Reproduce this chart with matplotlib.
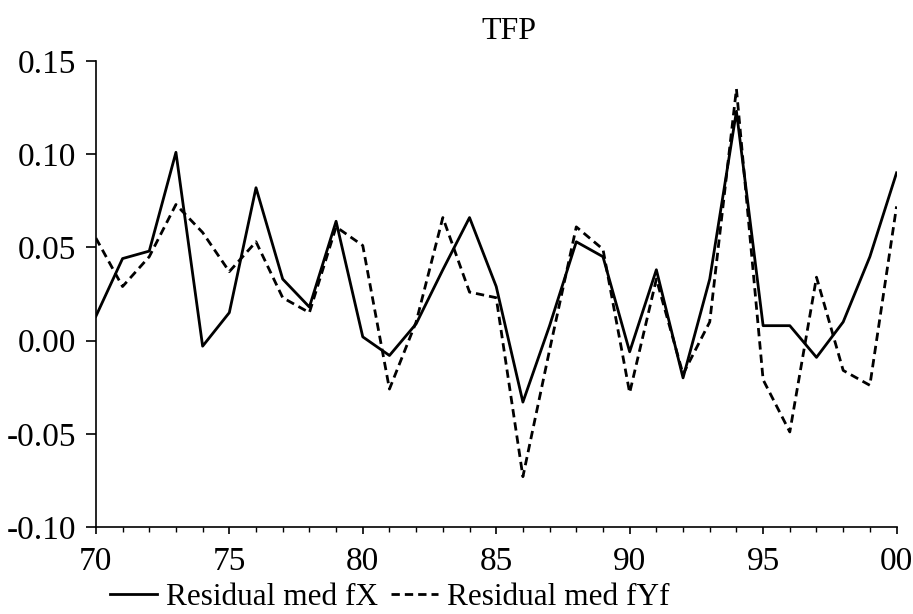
import numpy as np
import matplotlib.pyplot as plt

plt.rcParams['font.family'] = ['Liberation Serif', 'DejaVu Serif']

aar = np.arange(1970, 2001)
resid_fX = [0.013, 0.044, 0.048, 0.101, -0.003, 0.015, 0.082, 0.033, 0.018, 0.064,
            0.002, -0.008, 0.009, 0.038, 0.066, 0.029, -0.033, 0.008, 0.053, 0.045,
            -0.006, 0.038, -0.020, 0.033, 0.123, 0.008, 0.008, -0.009, 0.010, 0.045,
            0.090]
resid_fYf = [0.055, 0.029, 0.045, 0.073, 0.058, 0.037, 0.053, 0.023, 0.015, 0.061,
             0.051, -0.026, 0.010, 0.066, 0.026, 0.023, -0.073, -0.005, 0.061, 0.049,
             -0.028, 0.033, -0.018, 0.010, 0.135, -0.021, -0.049, 0.034, -0.016, -0.024,
             0.072]
xtikker = [1970, 1975, 1980, 1985, 1990, 1995, 2000]
xtekster = ['70', '75', '80', '85', '90', '95', '00']
ytikker = [-0.10, -0.05, 0.00, 0.05, 0.10, 0.15]

fig = plt.figure(figsize=(9.13, 6.14), dpi=100)
ax = fig.add_axes([0.105, 0.1417, 0.877, 0.759])

l1, = ax.plot(aar, resid_fX, color='black', linewidth=2.0, label='Residual med fX')
l2, = ax.plot(aar, resid_fYf, color='black', linewidth=2.0, linestyle=(0, (3, 1.8)),
              label='Residual med fYf')

ax.set_xlim(1970, 2000)
ax.set_ylim(-0.10, 0.15)
ax.set_xticks(xtikker)
ax.set_xticklabels(xtekster)
ax.set_xticks(aar, minor=True)
ax.set_yticks(ytikker)
ax.set_yticklabels(['%.2f' % v for v in ytikker])
ax.tick_params(axis='both', which='major', direction='out', width=1.2, labelsize=24)
ax.tick_params(axis='x', which='major', length=5, pad=9)
ax.tick_params(axis='x', which='minor', direction='out', length=3.5, width=1.0)
ax.tick_params(axis='y', which='major', length=7, pad=7)
for s in ['top', 'right']:
    ax.spines[s].set_visible(False)
for s in ['left', 'bottom']:
    ax.spines[s].set_linewidth(1.2)

ax.set_title('TFP', fontsize=23, pad=16, x=0.516)

fig.legend(handles=[l1, l2], loc='center', bbox_to_anchor=(0.427, 0.027), ncol=2,
           frameon=False, fontsize=22.5, handlelength=1.5, handletextpad=0.3,
           columnspacing=0.4, borderpad=0)

fig.savefig('out.png', dpi=100)
